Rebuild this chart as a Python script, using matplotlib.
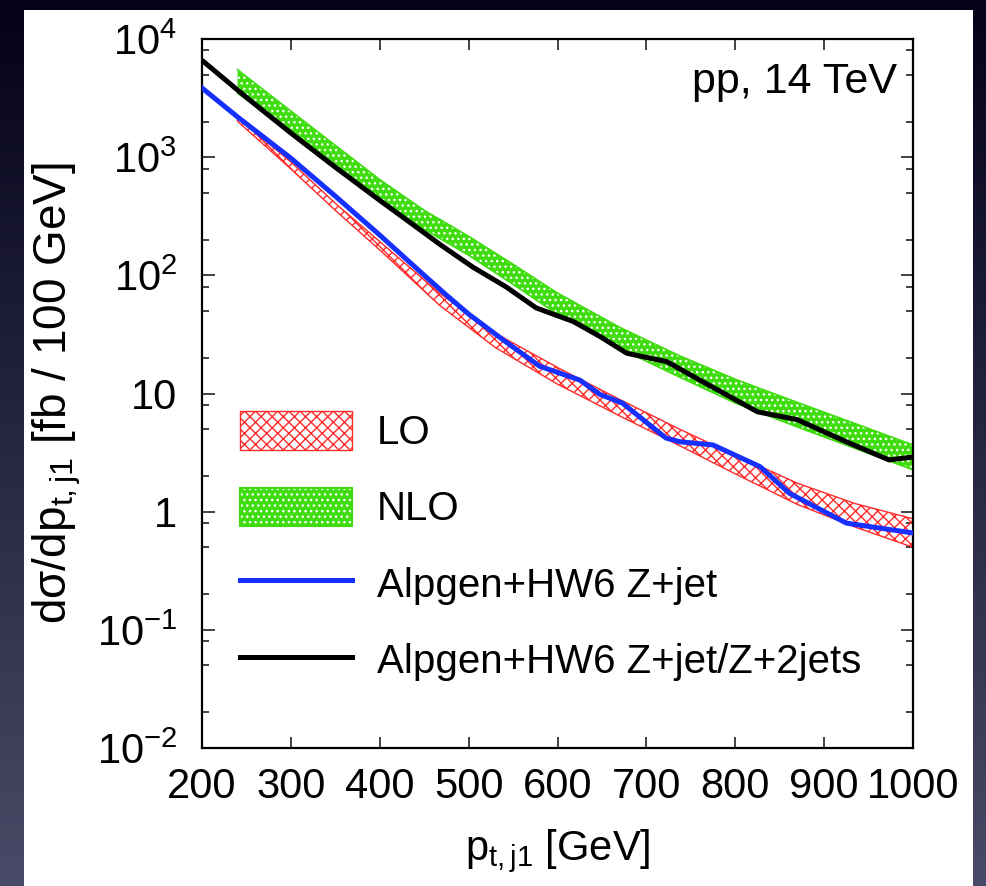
import numpy as np
import matplotlib.pyplot as plt
from matplotlib.patches import Patch, Rectangle
from matplotlib.lines import Line2D
from matplotlib.ticker import LogLocator, FixedLocator, FuncFormatter

plt.rcParams['font.family'] = ['Liberation Sans', 'DejaVu Sans']
plt.rcParams['mathtext.fontset'] = 'custom'
plt.rcParams['mathtext.rm'] = 'Liberation Sans'
plt.rcParams['mathtext.it'] = 'Liberation Sans:italic'
plt.rcParams['hatch.linewidth'] = 1.0

# LO band (red hatched)
pt_lo = [240, 300, 350, 400, 467, 530, 600, 670, 737, 800, 870, 935, 1000]
lo_low = [2010, 795, 355, 164, 56, 24.5, 12.0, 6.46, 3.63, 2.09, 1.15, 0.74, 0.50]
lo_high = [2170, 910, 407, 193, 71, 32.4, 16.6, 8.9, 5.0, 3.02, 1.74, 1.17, 0.87]

# NLO band (green)
pt_nlo = [240, 300, 350, 400, 450, 500, 550, 600, 670, 737, 800, 870, 935, 1000]
nlo_low = [3470, 1700, 871, 447, 245, 148, 84, 46.8, 24, 13.8, 8.3, 5.2, 3.43, 2.26]
nlo_high = [5500, 2455, 1259, 646, 355, 214, 124, 70.8, 36.3, 20.9, 13.2, 8.4, 5.56, 3.67]

# Alpgen+HW6 Z+jet
pt_blue = [200, 240, 300, 350, 400, 450, 475, 500, 540, 580, 625, 648, 673, 722, 738, 775, 828, 861, 925, 1000]
blue = [3850, 2190, 980, 468, 219, 100, 68, 47, 28, 17, 13, 9.8, 8.3, 4.2, 3.9, 3.67, 2.4, 1.43, 0.80, 0.66]

# Alpgen+HW6 Z+jet/Z+2jets
pt_black = [200, 250, 300, 350, 400, 450, 468, 505, 542, 576, 618, 648, 678, 723, 760, 825, 870, 925, 973, 1000]
black = [6600, 3200, 1600, 822, 431, 229, 182, 117, 80, 53, 40.6, 30.3, 21.9, 18.6, 13, 7.0, 6.0, 3.9, 2.74, 2.9]

labels = ['LO', 'NLO', 'Alpgen+HW6 Z+jet', 'Alpgen+HW6 Z+jet/Z+2jets']

fig = plt.figure(figsize=(9.87, 8.86), dpi=100)

# dark gradient backdrop and white panel
bg = fig.add_axes([0, 0, 1, 1])
grad = np.linspace(0, 1, 256).reshape(-1, 1)
top = np.array([3, 2, 24]) / 255
bot = np.array([74, 74, 104]) / 255
img = top + (bot - top) * grad[:, :, None]
bg.imshow(img, aspect='auto', extent=[0, 1, 0, 1], origin='upper')
bg.add_patch(Rectangle((24 / 987, 0), (973 - 24) / 987, 1 - 10 / 886,
                       facecolor='white', edgecolor='none'))
bg.set_xlim(0, 1)
bg.set_ylim(0, 1)
bg.axis('off')

ax = fig.add_axes([202 / 987, 1 - 748 / 886, 711 / 987, 709 / 886])

green = '#3fdc0f'
ax.fill_between(pt_nlo, nlo_low, nlo_high, facecolor=green, edgecolor='white',
                hatch='...', linewidth=0, zorder=2)
ax.plot(pt_nlo, nlo_low, color=green, lw=1.2, zorder=2)
ax.plot(pt_nlo, nlo_high, color=green, lw=1.2, zorder=2)

ax.fill_between(pt_lo, lo_low, lo_high, facecolor='none', edgecolor='#ff2a2a',
                hatch='xxx', linewidth=1.0, zorder=2)

ax.plot(pt_black, black, color='black', lw=3.6, zorder=3)
ax.plot(pt_blue, blue, color='#1530ff', lw=3.6, zorder=4)

ax.set_yscale('log')
ax.set_xlim(200, 1000)
ax.set_ylim(1e-2, 1e4)

ax.xaxis.set_major_locator(FixedLocator(range(200, 1001, 100)))
ax.yaxis.set_major_locator(LogLocator(base=10, numticks=10))
ax.yaxis.set_minor_locator(LogLocator(base=10, subs=[2, 5, 8], numticks=10))


def yfmt(v, pos):
    e = int(round(np.log10(v)))
    if e == 0:
        return '1'
    if e == 1:
        return '10'
    return r'$\mathregular{10^{%d}}$' % e


ax.yaxis.set_major_formatter(FuncFormatter(yfmt))
ax.yaxis.set_minor_formatter(FuncFormatter(lambda v, p: ''))

ax.tick_params(axis='both', which='both', direction='in', top=True, right=True,
               labelsize=30, width=1.2, colors='#222222', labelcolor='black')
ax.tick_params(axis='x', which='major', length=8, pad=14)
ax.tick_params(axis='y', which='major', length=9, pad=18)
ax.tick_params(axis='y', which='minor', length=5)
for s in ax.spines.values():
    s.set_linewidth(1.6)

ax.set_xlabel(r'p$_{\mathregular{t,j1}}$ [GeV]', fontsize=30)
ax.xaxis.set_label_coords(0.5, -0.112)
ax.set_ylabel(r'dσ/dp$_{\mathregular{t,j1}}$ [fb / 100 GeV]', fontsize=33)
ax.yaxis.set_label_coords(-0.168, 0.5)

ax.text(0.978, 0.94, 'pp, 14 TeV', transform=ax.transAxes, ha='right', va='center',
        fontsize=31)

h_lo = Patch(facecolor='white', edgecolor='#ff2a2a', hatch='xxx', lw=1.0)
h_nlo = (Patch(facecolor=green, edgecolor='white', hatch='...', lw=0),
         Patch(facecolor='none', edgecolor=green, lw=1.5))
h_blue = Line2D([], [], color='#1530ff', lw=3.6)
h_black = Line2D([], [], color='black', lw=3.6)
ax.legend([h_lo, h_nlo, h_blue, h_black], labels, loc='upper left',
          bbox_to_anchor=(0.053, 0.475), frameon=False, fontsize=29,
          handlelength=2.8, handleheight=1.09, labelspacing=0.88,
          handletextpad=0.6, borderpad=0, borderaxespad=0)

fig.savefig('out.png', dpi=100)
